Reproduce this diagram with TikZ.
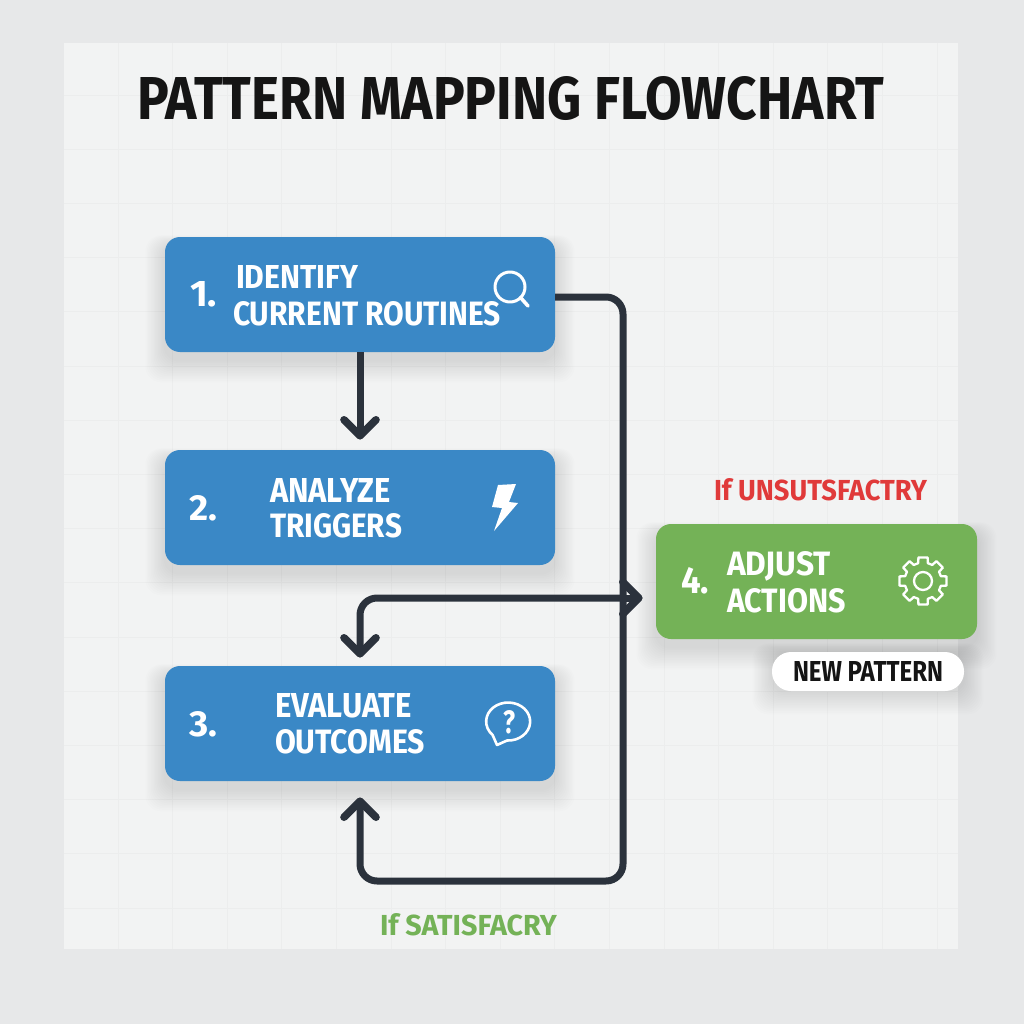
\documentclass[tikz,border=0pt]{standalone}
\usepackage{fontspec}
\usepackage{graphicx}
\setmainfont{Fira Sans}[UprightFont=* Bold,BoldFont=* Bold]
\definecolor{bgout}{HTML}{E7E8E9}
\definecolor{panel}{HTML}{F2F3F3}
\definecolor{gridc}{HTML}{ECEDED}
\definecolor{bluebox}{HTML}{3A88C6}
\definecolor{greenbox}{HTML}{74B257}
\definecolor{linec}{HTML}{2B323C}
\definecolor{redt}{HTML}{E03A3A}
\definecolor{titlec}{HTML}{151515}
\newcommand{\fitbox}[3]{\resizebox{#1pt}{#2pt}{#3}}
\newcommand{\softshadow}[5][8]{%
  \foreach \e in {1,2,...,14}
    \fill[black,opacity=0.007,rounded corners=16pt]
      (#2-\e*1.4,#3-\e*0.7+#1) rectangle (#4+\e*1.4,#5+\e*1.6+#1);}
\tikzset{
  stepbox/.style={draw=none,rounded corners=15pt,inner sep=0pt,minimum width=390pt,minimum height=115pt,fill=bluebox},
  lbl/.style={anchor=base west,inner sep=0pt,outer sep=0pt},
  wt/.style={lbl,text=white},
  flow/.style={draw=linec,line width=7pt,line join=round,rounded corners=17pt},
  chevron/.style={draw=linec,line width=7.6pt,line join=round,line cap=round},
  icon/.style={draw=white,line width=2.6pt,line join=round,line cap=round},
}
\begin{document}
\begin{tikzpicture}[x=1pt,y=-1pt]
\useasboundingbox (0,0) rectangle (1024,1024);
\fill[bgout] (0,0) rectangle (1024,1024);
\fill[panel] (64,43) rectangle (958,949);
\foreach \i in {0,...,15} \draw[gridc,line width=0.9pt] (118+\i*54.6,43) -- (118+\i*54.6,949);
\foreach \i in {0,...,15} \draw[gridc,line width=0.9pt] (64,95+\i*54.2) -- (958,95+\i*54.2);

\node[lbl,text=titlec] (title) at (137,120) {\fitbox{747}{43}{PATTERN MAPPING FLOWCHART}};

\softshadow{165}{237}{555}{352}
\softshadow{165}{450}{555}{565}
\softshadow{165}{666}{555}{781}
\softshadow{656}{524}{977}{639}
\softshadow[1]{772}{652}{964}{691}

\node[stepbox] (n1) at (360,294.5) {};
\node[stepbox] (n2) at (360,507.5) {};
\node[stepbox] (n3) at (360,723.5) {};
\node[stepbox,minimum width=321pt,fill=greenbox] (n4) at (816.5,581.5) {};
\node[fill=white,rounded corners=19pt,minimum width=192pt,minimum height=39pt,inner sep=0pt] (pill) at (868,671.5) {};

\coordinate (railtop) at (623,297);
\coordinate (railbot) at (623,881);
\coordinate (loopleft) at (360,881);
\coordinate (midleft) at (360,598);
\coordinate (midright) at (623,598);
\coordinate (tipa) at ([yshift=14pt]n2.north);
\coordinate (tipb) at ([yshift=-20pt]n3.south);
\coordinate (tipc) at ([yshift=12pt]n3.north);
\coordinate (tipd) at (n4.west |- midright);
\coordinate (tipd) at ([xshift=-17pt]tipd);

\draw[flow] (n1.south) -- (tipa);
\draw[chevron] ([shift={(-16,-16)}]tipa) -- (tipa) -- ([shift={(16,-16)}]tipa);
\draw[flow] (n1.east |- railtop) -- (railtop) -- (railbot) -- (loopleft) -- (tipb);
\draw[chevron] ([shift={(-16,16)}]tipb) -- (tipb) -- ([shift={(16,16)}]tipb);
\draw[flow] (midright) -- (midleft) -- (tipc);
\draw[chevron] ([shift={(-16,-16)}]tipc) -- (tipc) -- ([shift={(16,-16)}]tipc);
\draw[flow] (midright) -- (tipd);
\draw[chevron] ([shift={(-16,-16)}]tipd) -- (tipd) -- ([shift={(-16,16)}]tipd);

\node[wt] (num1) at (190,306) {\fitbox{27}{25}{1.}};
\node[wt] (t1a) at (236,288) {\fitbox{122}{23}{IDENTIFY}};
\node[wt] (t1b) at (233,325) {\fitbox{268}{24}{CURRENT ROUTINES}};
\node[wt] (num2) at (189,520) {\fitbox{28}{25}{2.}};
\node[wt] (t2a) at (270,502) {\fitbox{121}{24}{ANALYZE}};
\node[wt] (t2b) at (270,537) {\fitbox{132}{24}{TRIGGERS}};
\node[wt] (num3) at (189,736) {\fitbox{28}{25}{3.}};
\node[wt] (t3a) at (275,717) {\fitbox{137}{24}{EVALUATE}};
\node[wt] (t3b) at (275,753) {\fitbox{150}{24}{OUTCOMES}};
\node[wt] (num4) at (681,593) {\fitbox{28}{26}{4.}};
\node[wt] (t4a) at (727,575) {\fitbox{104}{24}{ADJUST}};
\node[wt] (t4b) at (727,612) {\fitbox{119}{24}{ACTIONS}};

\node[lbl,text=redt] (unsat) at (714,500) {\fitbox{213}{22}{If UNSUTSFACTRY}};
\node[lbl,text=greenbox] (sat) at (380,935) {\fitbox{177}{22}{If SATISFACRY}};
\node[lbl,text=titlec] (newp) at (793,681) {\fitbox{150}{20}{NEW PATTERN}};

% magnifier
\draw[icon,line width=3pt] (510,287) circle (15);
\draw[icon,line width=3.6pt] (520.5,297.5) -- (528,306);
% bolt
\fill[white] (498,485) -- (516,484) -- (509,502) -- (518,503) -- (494,531) -- (502,508) -- (492,507) -- cycle;
% bubble
\draw[icon] (507,740.5) arc[start angle=93,end angle=-225,x radius=22,y radius=19] -- (497,745) -- cycle;
\node[text=white,inner sep=0pt] (qm) at (509,722) {\fitbox{12}{23}{?}};
% gear
\begin{scope}[shift={(923,581)}]
\draw[icon,line width=2.3pt] (-11:24) \foreach \a in {0,45,...,315} { -- (\a-11:24) -- (\a+11:24) -- (\a+15:18.5) -- (\a+30:18.5) } -- cycle;
\draw[icon,line width=2.3pt] (0,0) circle (9);
\end{scope}
\end{tikzpicture}
\end{document}
